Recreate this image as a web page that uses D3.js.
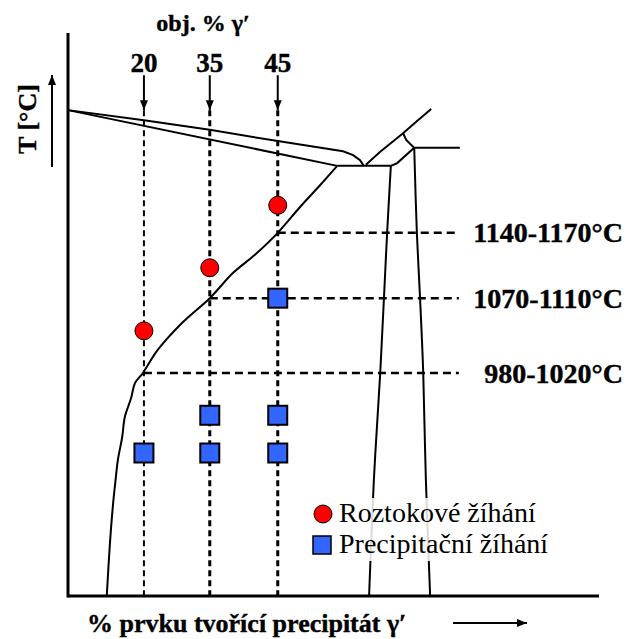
<!DOCTYPE html>
<html lang="cs">
<head>
<meta charset="utf-8">
<script src="https://d3js.org/d3.v7.min.js"></script>
<style>
  body { margin: 0; background: #fff; }
  text { font-family: "Liberation Serif", "DejaVu Serif", serif; }
</style>
</head>
<body>
<script>
// alloys: obj. % gamma prime and their position on the composition axis (0-100)
const alloyPct = [20, 35, 45];
const alloyX = [14.3, 26.7, 39.5];

// heat treatment temperature levels (relative T, 0-100)
const levelLabels = ["980-1020°C", "1070-1110°C", "1140-1170°C"];
const levelT = [39.6, 52.9, 64.5];
const levelEndX = 73.6;

// solution annealing (red circles), one per alloy
const solAlloy = [20, 35, 45];
const solT = [47.1, 58.3, 69.4];

// precipitation annealing (blue squares)
const precAlloy = [45, 35, 45, 20, 35, 45];
const precT = [52.9, 32.1, 32.1, 25.4, 25.4, 25.4];

// phase diagram lines [composition, relative T]
const liquidus = [[0, 86.3], [14.3, 84.5], [26.7, 82.8], [39.5, 80.8], [51.8, 79.0], [53.7, 78.3], [55.0, 77.4], [55.7, 76.4]];
const solidus = [[0, 86.3], [50.7, 76.4]];
const eutectic = [[50.7, 76.4], [60.8, 76.4]];
const upperDiag = [[56.1, 76.6], [58.8, 78.9], [63.1, 82.2], [65.9, 84.5], [68.4, 86.5]];
const connector = [[63.1, 82.2], [63.7, 81.0], [65.2, 79.6]];
const lowerDiag = [[60.8, 76.4], [62.0, 76.9], [65.2, 79.6]];
const rightFlat = [[65.2, 79.6], [73.8, 79.6]];
const gpLeft = [[60.8, 76.4], [60.1, 64.5], [59.5, 52.9], [58.8, 39.6], [57.6, 20.6], [56.7, 0]];
const gpRight = [[65.2, 79.6], [65.7, 64.5], [66.3, 52.9], [66.9, 39.6], [67.4, 20.6], [68.2, 0]];
const solvus = [[50.7, 76.4], [47.5, 73.0], [43.7, 69.1], [39.5, 64.5], [35.2, 60.6], [31.1, 57.4],
  [26.7, 52.9], [21.7, 48.7], [16.9, 43.7], [14.1, 39.6], [12.6, 37.8], [11.9, 35.2], [10.7, 31.8],
  [10.2, 28.2], [9.4, 24.2], [8.9, 20.1], [8.5, 16.5], [7.9, 9.4], [7.3, 0]];

const W = 627, H = 639;
const x = d3.scaleLinear().domain([0, 100]).range([68, 599]);
const y = d3.scaleLinear().domain([0, 100]).range([596, 33]);
const posX = d3.scaleOrdinal().domain(alloyPct).range(alloyX);

const svg = d3.select("body").append("svg")
  .attr("width", W).attr("height", H);

svg.append("defs").append("marker")
  .attr("id", "head").attr("viewBox", "0 0 10 10")
  .attr("refX", 10).attr("refY", 5)
  .attr("markerWidth", 10).attr("markerHeight", 10)
  .attr("markerUnits", "userSpaceOnUse")
  .attr("orient", "auto")
  .append("path").attr("d", "M0,1 L10,5 L0,9 Z").attr("fill", "#000");

const line = d3.line().x(d => x(d[0])).y(d => y(d[1]));
const smooth = d3.line().x(d => x(d[0])).y(d => y(d[1])).curve(d3.curveCatmullRom);

// dashed verticals for the alloys
svg.selectAll(".vdash").data(alloyX).enter().append("line")
  .attr("x1", d => x(d)).attr("x2", d => x(d))
  .attr("y1", y(86.3)).attr("y2", y(0))
  .attr("stroke", "#000").attr("stroke-width", (d, i) => i == 0 ? 2 : 3)
  .attr("stroke-dasharray", "6,4");

// dashed horizontals for temperatures
svg.selectAll(".hdash").data(levelT).enter().append("line")
  .attr("x1", (d, i) => x(alloyX[i])).attr("x2", x(levelEndX))
  .attr("y1", d => y(d)).attr("y2", d => y(d))
  .attr("stroke", "#000").attr("stroke-width", 2.5)
  .attr("stroke-dasharray", "8,5");

// phase diagram
[liquidus, solidus, eutectic, upperDiag, connector, lowerDiag, rightFlat].forEach(p => {
  svg.append("path").attr("d", line(p)).attr("fill", "none")
    .attr("stroke", "#000").attr("stroke-width", 2);
});
[gpLeft, gpRight, solvus].forEach(p => {
  svg.append("path").attr("d", smooth(p)).attr("fill", "none")
    .attr("stroke", "#000").attr("stroke-width", 2);
});

// axes
svg.append("line").attr("x1", x(0)).attr("x2", x(0)).attr("y1", y(100)).attr("y2", y(0) + 1.5)
  .attr("stroke", "#000").attr("stroke-width", 3);
svg.append("line").attr("x1", x(0)).attr("x2", x(100)).attr("y1", y(0)).attr("y2", y(0))
  .attr("stroke", "#000").attr("stroke-width", 3);

// arrows from alloy labels
svg.selectAll(".arr").data(alloyX).enter().append("line")
  .attr("x1", d => x(d)).attr("x2", d => x(d))
  .attr("y1", y(92.5)).attr("y2", y(86.3))
  .attr("stroke", "#000").attr("stroke-width", 2)
  .attr("marker-end", "url(#head)");

svg.selectAll(".alab").data(alloyPct).enter().append("text")
  .attr("x", (d, i) => x(alloyX[i])).attr("y", 72)
  .attr("text-anchor", "middle")
  .attr("font-size", 27).attr("font-weight", "bold")
  .attr("stroke", "#000").attr("stroke-width", 0.4)
  .text(d => d);

svg.append("text").attr("x", 203).attr("y", 31)
  .attr("text-anchor", "middle").attr("font-size", 24).attr("font-weight", "bold")
  .attr("stroke", "#000").attr("stroke-width", 0.4)
  .text("obj. % γ′");

// temperature labels
svg.selectAll(".tlab").data(levelT).enter().append("text")
  .attr("x", 623).attr("y", d => y(d) + 9.5)
  .attr("text-anchor", "end")
  .attr("font-size", 28).attr("font-weight", "bold")
  .attr("stroke", "#000").attr("stroke-width", 0.4)
  .text((d, i) => levelLabels[i]);

// markers
svg.selectAll(".sol").data(solT).enter().append("circle")
  .attr("cx", (d, i) => x(posX(solAlloy[i]))).attr("cy", d => y(d))
  .attr("r", 9).attr("fill", "#ff0000").attr("stroke", "#000").attr("stroke-width", 1);

svg.selectAll(".prec").data(precT).enter().append("rect")
  .attr("x", (d, i) => x(posX(precAlloy[i])) - 9.5).attr("y", d => y(d) - 9.5)
  .attr("width", 19).attr("height", 19)
  .attr("fill", "#3366ff").attr("stroke", "#000").attr("stroke-width", 2);

// legend
const lg = svg.append("g");
lg.append("rect").attr("x", 337).attr("y", 498).attr("width", 234).attr("height", 63)
  .attr("fill", "#fff").attr("opacity", 0.85);
lg.append("circle").attr("cx", 323).attr("cy", 514).attr("r", 9)
  .attr("fill", "#ff0000").attr("stroke", "#000").attr("stroke-width", 1);
lg.append("rect").attr("x", 313).attr("y", 536).attr("width", 18).attr("height", 18)
  .attr("fill", "#3366ff").attr("stroke", "#000").attr("stroke-width", 1.5);
lg.append("text").attr("x", 339).attr("y", 522).attr("font-size", 28).text("Roztokové žíhání");
lg.append("text").attr("x", 339).attr("y", 553).attr("font-size", 28).text("Precipitační žíhání");

// axis titles
svg.append("text").attr("x", 87).attr("y", 632)
  .attr("font-size", 26).attr("font-weight", "bold")
  .attr("stroke", "#000").attr("stroke-width", 0.4)
  .text("% prvku tvořící precipitát γ′");
svg.append("line").attr("x1", 453).attr("x2", 527).attr("y1", 623).attr("y2", 623)
  .attr("stroke", "#000").attr("stroke-width", 2).attr("marker-end", "url(#head)");

svg.append("text").attr("transform", "translate(36,119) rotate(-90)")
  .attr("text-anchor", "middle").attr("font-size", 26).attr("font-weight", "bold")
  .attr("stroke", "#000").attr("stroke-width", 0.4)
  .text("T [°C]");
svg.append("line").attr("x1", 52).attr("x2", 52).attr("y1", 167).attr("y2", 75)
  .attr("stroke", "#000").attr("stroke-width", 2).attr("marker-end", "url(#head)");
</script>
</body>
</html>
